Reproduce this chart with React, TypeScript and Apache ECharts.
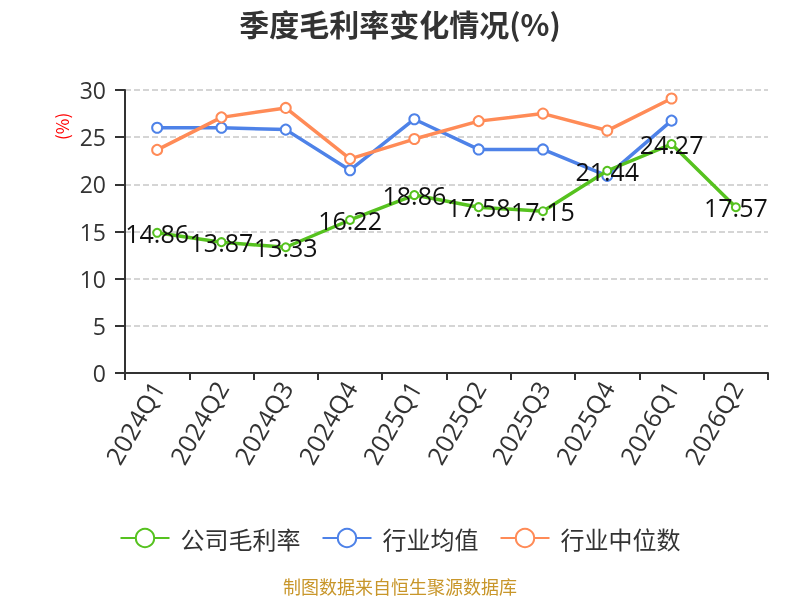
import React, { useEffect, useRef } from "react";
import * as echarts from "echarts";

const categories = ["2024Q1", "2024Q2", "2024Q3", "2024Q4", "2025Q1", "2025Q2", "2025Q3", "2025Q4", "2026Q1", "2026Q2"];
const companyMargin = [14.86, 13.87, 13.33, 16.22, 18.86, 17.58, 17.15, 21.44, 24.27, 17.57];
const industryMean = [26.0, 26.0, 25.8, 21.5, 26.9, 23.7, 23.7, 20.9, 26.75, null];
const industryMedian = [23.65, 27.1, 28.1, 22.7, 24.8, 26.7, 27.5, 25.7, 29.1, null];

const FONT = "'Noto Sans CJK SC', 'Noto Sans', sans-serif";
const NUM_FONT = "'Open Sans', 'Noto Sans CJK SC', sans-serif";

export default function App() {
  const ref = useRef<HTMLDivElement>(null);
  useEffect(() => {
    const chart = echarts.init(ref.current!, null, { renderer: "svg" });
    chart.setOption({
      animation: false,
      textStyle: { fontFamily: FONT },
      title: {
        text: "季度毛利率变化情况(%)",
        left: "center",
        top: 3,
        textStyle: { fontSize: 30, fontWeight: "bold", color: "#333", fontFamily: FONT },
      },
      graphic: [
        {
          type: "text",
          x: 53,
          y: 140,
          rotation: Math.PI / 2,
          style: { text: "(%)", fill: "#ff0000", fontSize: 17, fontFamily: FONT },
        },
        {
          type: "text",
          left: "center",
          top: 577,
          style: { text: "制图数据来自恒生聚源数据库", fill: "#c8962a", fontSize: 18, fontFamily: FONT },
        },
      ],
      legend: {
        top: 521,
        left: "center",
        itemWidth: 49,
        itemHeight: 23,
        itemGap: 21,
        textStyle: { fontSize: 24, color: "#333", fontFamily: FONT, padding: [0, 0, 0, 6] },
        data: ["公司毛利率", "行业均值", "行业中位数"],
      },
      grid: { left: 125, right: 32, top: 90, bottom: 227 },
      xAxis: {
        type: "category",
        data: categories,
        boundaryGap: true,
        axisLine: { lineStyle: { color: "#333", width: 2 } },
        axisTick: { show: true, length: 7, lineStyle: { color: "#333", width: 2 } },
        axisLabel: { rotate: 60, fontSize: 25, color: "#333", margin: 10, fontFamily: NUM_FONT },
      },
      yAxis: {
        type: "value",
        min: 0,
        max: 30,
        interval: 5,
        axisLine: { show: true, lineStyle: { color: "#333", width: 2 } },
        axisTick: { show: true, length: 10, lineStyle: { color: "#333", width: 2 } },
        axisLabel: { fontSize: 23, color: "#333", margin: 19, fontFamily: NUM_FONT },
        splitLine: { lineStyle: { type: "dashed", color: "#c8c8c8", width: 1.5 } },
      },
      series: [
        {
          name: "公司毛利率",
          type: "line",
          data: companyMargin,
          symbol: "emptyCircle",
          symbolSize: 8,
          color: "#56c21f",
          lineStyle: { width: 3.5 },
          z: 3,
          label: {
            show: true,
            position: "inside",
            fontSize: 25,
            color: "#111",
            fontFamily: NUM_FONT,
          },
        },
        {
          name: "行业均值",
          type: "line",
          data: industryMean,
          symbol: "emptyCircle",
          symbolSize: 10,
          color: "#4e82e8",
          lineStyle: { width: 3.5 },
          z: 2,
        },
        {
          name: "行业中位数",
          type: "line",
          data: industryMedian,
          symbol: "emptyCircle",
          symbolSize: 10,
          color: "#ff8b57",
          lineStyle: { width: 3.5 },
          z: 2,
        },
      ],
    });
    return () => chart.dispose();
  }, []);
  return <div ref={ref} style={{ position: "fixed", left: 0, top: 0, width: 800, height: 600 }} />;
}
